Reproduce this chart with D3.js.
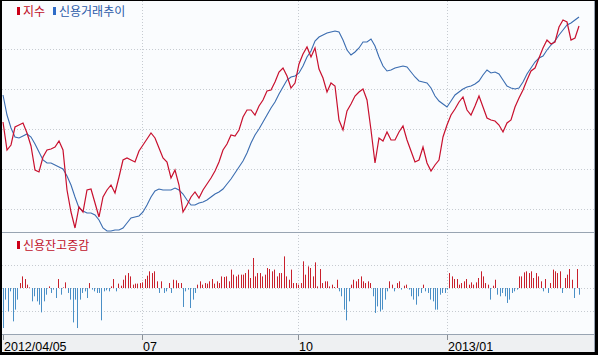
<!DOCTYPE html>
<html>
<head>
<meta charset="utf-8">
<script src="https://cdn.jsdelivr.net/npm/d3@7"></script>
<style>
  body { margin: 0; background: #000; }
  svg { display: block; }
</style>
</head>
<body>
<div id="chart"></div>
<script>
// x axis: trading days from 2012/04/05
const tickIdx = [0, 58, 123, 185];
const tickLabels = ["2012/04/05", "07", "10", "2013/01"];

// 지수 (sampled every ~2 trading days)
const indexVals = [505, 491, 493.5, 502.5, 503.5, 504.5, 499.5, 493, 481, 480,
  487.5, 491, 491.5, 492.5, 495.5, 491, 471, 460, 452, 462.5,
  460, 471, 471.5, 464.5, 457.5, 467.5, 471, 473.5, 469.5, 477.5,
  486, 487, 486, 485, 490.5, 493.5, 496.5, 499.5, 497, 492,
  487, 485, 477, 481, 473.5, 460, 463.5, 467.5, 470, 467,
  471, 474, 477, 480.5, 485, 491, 494, 498.5, 498, 501,
  507.5, 511, 511, 508.5, 513, 516, 520.5, 521, 525, 530,
  532, 528, 522, 524.5, 534, 539, 542.5, 537.5, 542, 531.5,
  527, 520, 524.5, 523, 506, 501, 510.5, 514, 518, 520,
  521.5, 516, 501, 484.5, 497, 495.5, 500, 496, 496, 500,
  503, 496, 490.5, 485, 486, 492.5, 484.5, 480.5, 483.5, 486,
  497.5, 503.5, 508.5, 511.5, 515, 517.5, 511, 508.5, 513, 518,
  512.5, 507, 506, 505.5, 503.5, 500, 504.5, 506, 512.5, 517,
  521, 526, 530.5, 532, 537, 542, 546, 544, 545, 552.5,
  556, 555, 546, 547, 553];

// 신용거래추이 (억원, same sampling)
const creditVals = [46850, 45850, 45200, 44750, 44700, 44800, 44900, 44750, 44400, 44000,
  43600, 43450, 43450, 43350, 43250, 43150, 42800, 42350, 41750, 41200,
  41050, 40950, 40950, 40850, 40600, 40200, 40050, 40050, 40100, 40100,
  40200, 40450, 40700, 40750, 40800, 41000, 41350, 41750, 42050, 42150,
  42100, 42100, 42100, 42200, 42100, 41900, 41600, 41350, 41350, 41450,
  41500, 41600, 41750, 41900, 42000, 42150, 42400, 42650, 42950, 43250,
  43550, 43950, 44450, 44850, 45150, 45500, 45850, 46200, 46500, 46900,
  47250, 47600, 47750, 47800, 47950, 48300, 48750, 49050, 49550, 49750,
  49850, 49950, 50000, 50050, 50000, 49600, 49100, 48850, 49000, 49200,
  49500, 49500, 49650, 49300, 48750, 48300, 48050, 48100, 48200, 48250,
  48300, 48250, 48000, 47750, 47550, 47500, 47450, 47200, 46800, 46550,
  46400, 46250, 46550, 46850, 47000, 47150, 47250, 47300, 47400, 47550,
  47850, 48100, 47950, 48000, 47900, 47600, 47300, 47200, 47150, 47200,
  47500, 47900, 48200, 48500, 48700, 48800, 49100, 49350, 49550, 49850,
  50100, 50350, 50450, 50600, 50750];

// 신용잔고증감 (억원, daily)
const creditChange = [-348, -101, -203, -29, -290, -188, -101, 43, 101, 78,
  29, 5, -116, -72, -116, -145, -212, -116, -58, 14,
  -43, -14, -87, 78, -58, 5, 49, -43, -101, -299,
  -101, -348, -101, -43, -29, -87, 43, -14, -29, -43,
  -43, -281, -29, -20, -29, 14, 78, -29, 38, 20,
  72, 110, 130, 101, 29, 38, 38, 43, 49, 78,
  107, 145, 130, 145, 58, -43, 58, -43, -29, 43,
  -43, 72, 67, 43, 43, -165, -29, -14, -174, -101,
  -43, 29, 58, 29, 43, 38, 58, 78, 38, 58,
  43, 101, 96, 101, 58, 160, 116, 101, 116, 116,
  116, 130, 160, 87, 261, 101, 130, 130, 101, 116,
  174, 165, 145, 160, 101, 130, 130, 275, 101, 72,
  160, 43, 43, 29, 43, 232, 116, 188, 174, 101,
  223, 14, 165, 43, 58, 58, 14, 29, 9, 72,
  -29, -72, -188, -281, -116, 29, 72, 58, 78, 101,
  58, 43, 58, 43, -72, -217, -160, -203, -188, -101,
  -29, 58, 29, -29, 43, 58, -14, 20, 29, -14,
  -72, -101, -145, -72, -43, 29, -29, -43, -101, -116,
  -188, -188, -58, -43, -43, -14, 130, 101, 78, 78,
  29, 43, 58, 78, 29, 49, 29, 49, 87, 145,
  101, 43, 29, -101, 20, 72, -58, -72, -43, -72,
  -130, -101, -43, -29, -14, 101, 101, 136, 145, 130,
  145, 87, 130, 101, 58, -29, 78, -43, 43, 160,
  145, 130, 145, -43, 87, 116, 165, 72, -87, 165, -58];

const W = 598, H = 355;
const left = 3, right = 579;

const svg = d3.select("#chart").append("svg")
  .attr("width", W)
  .attr("height", H);

// frame + backgrounds
svg.append("rect").attr("width", W).attr("height", H).attr("fill", "#000");
svg.append("rect").attr("x", 2).attr("y", 1).attr("width", 593).attr("height", 351).attr("fill", "#fafcfe");
svg.append("rect").attr("x", 2).attr("y", 335).attr("width", 593).attr("height", 17).attr("fill", "#eef0f2");

const xLine = d3.scaleLinear().domain([0, indexVals.length - 1]).range([left, right]);
const xBar = d3.scaleLinear().domain([0, creditChange.length - 1]).range([left, right]);
const yIdx = d3.scaleLinear().domain([450, 560]).range([232, 12]);
const yCr = d3.scaleLinear().domain([40000, 51000]).range([232, 12]);
const yBar = d3.scaleLinear().domain([-400, 400]).range([334, 242]);

const gridColor = "#c6cbd1";

// horizontal grid, upper panel
const grid = svg.append("g").attr("stroke", gridColor).attr("stroke-dasharray", "1,2");
[49, 89, 129, 169, 209].forEach((y) => {
  grid.append("line").attr("x1", 2).attr("x2", 594).attr("y1", y + 0.5).attr("y2", y + 0.5);
});
// lower panel grid
[200, 0, -200].forEach((v) => {
  grid.append("line")
    .attr("x1", 2).attr("x2", 594)
    .attr("y1", Math.round(yBar(v)) + 0.5).attr("y2", Math.round(yBar(v)) + 0.5);
});
// vertical grid at month ticks
tickIdx.slice(1).forEach((t) => {
  const x = Math.round(xBar(t)) + 0.5;
  grid.append("line").attr("x1", x).attr("x2", x).attr("y1", 1).attr("y2", 334);
});

// upper panel lines
const clip = svg.append("clipPath").attr("id", "upper");
clip.append("rect").attr("x", 2).attr("y", 1).attr("width", 592).attr("height", 231);

const idxLine = d3.line().x((d, i) => xLine(i)).y((d) => yIdx(d));
const crLine = d3.line().x((d, i) => xLine(i)).y((d) => yCr(d));

svg.append("path")
  .datum(creditVals)
  .attr("clip-path", "url(#upper)")
  .attr("fill", "none")
  .attr("stroke", "#3a6cb0")
  .attr("stroke-width", 1.1)
  .attr("d", crLine);

svg.append("path")
  .datum(indexVals)
  .attr("clip-path", "url(#upper)")
  .attr("fill", "none")
  .attr("stroke", "#c8102e")
  .attr("stroke-width", 1.2)
  .attr("d", idxLine);

// lower panel bars
svg.append("g")
  .selectAll("rect")
  .data(creditChange)
  .join("rect")
  .attr("x", (d, i) => Math.round(xBar(i)))
  .attr("y", (d) => Math.min(yBar(d), yBar(0)))
  .attr("width", 1)
  .attr("height", (d) => Math.abs(yBar(d) - yBar(0)))
  .attr("fill", (d) => (d >= 0 ? "#c8202c" : "#4a8fc6"));

// panel borders
const border = svg.append("g").attr("stroke", "#98a4b2");
border.append("line").attr("x1", 2).attr("x2", 595).attr("y1", 232.5).attr("y2", 232.5);
border.append("line").attr("x1", 2).attr("x2", 595).attr("y1", 334.5).attr("y2", 334.5);
border.append("line").attr("x1", 594.5).attr("x2", 594.5).attr("y1", 1).attr("y2", 352);

// x axis ticks and labels
const axis = svg.append("g");
tickIdx.forEach((t, k) => {
  const x = Math.round(xBar(t)) + 0.5;
  axis.append("line").attr("x1", x).attr("x2", x).attr("y1", 335).attr("y2", 340).attr("stroke", "#8a8f96");
  axis.append("text")
    .attr("x", Math.round(xBar(t)) + 1)
    .attr("y", 351)
    .attr("font-family", "Liberation Sans, Arial, sans-serif")
    .attr("font-size", 12.5)
    .attr("fill", "#000")
    .text(tickLabels[k]);
});

// legends
function legend(x, y, color, textColor, label) {
  svg.append("rect").attr("x", x).attr("y", y - 8).attr("width", 3).attr("height", 8).attr("fill", color);
  svg.append("text")
    .attr("x", x + 6)
    .attr("y", y + 1)
    .attr("font-family", "Noto Sans CJK KR, sans-serif")
    .attr("font-size", 12)
    .attr("fill", textColor)
    .text(label);
}
legend(17, 15, "#cc0018", "#c0102a", "지수");
legend(53, 15, "#2f6cc8", "#2a5aa8", "신용거래추이");
legend(17, 249, "#cc0018", "#c0102a", "신용잔고증감");
</script>
</body>
</html>
